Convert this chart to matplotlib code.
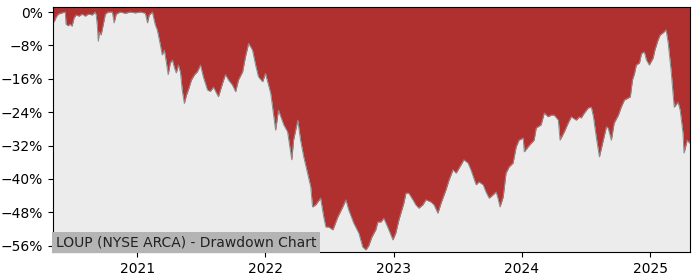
import pandas as pd
import matplotlib
matplotlib.use("Agg")
import matplotlib.pyplot as plt
import matplotlib.dates as mdates
from matplotlib.ticker import FuncFormatter

# drawdown (percent below running peak)
dates = [
    "2020-05-06", "2020-05-09", "2020-05-15", "2020-05-21", "2020-06-01", "2020-06-10",
    "2020-06-12", "2020-06-18", "2020-06-24", "2020-06-29", "2020-07-05", "2020-07-11",
    "2020-07-19", "2020-07-28", "2020-08-06", "2020-08-14", "2020-08-26", "2020-09-03",
    "2020-09-06", "2020-09-09", "2020-09-12", "2020-09-15", "2020-09-20", "2020-09-26",
    "2020-10-02", "2020-10-10", "2020-10-22", "2020-10-27", "2020-11-02", "2020-11-13",
    "2020-11-28", "2020-12-12", "2020-12-26", "2021-01-10", "2021-01-24", "2021-01-30",
    "2021-02-04", "2021-02-13", "2021-02-21", "2021-02-27", "2021-03-08", "2021-03-13",
    "2021-03-19", "2021-03-25", "2021-03-30", "2021-04-05", "2021-04-11", "2021-04-17",
    "2021-04-22", "2021-04-28", "2021-05-04", "2021-05-09", "2021-05-15", "2021-05-21",
    "2021-05-27", "2021-06-04", "2021-06-13", "2021-06-21", "2021-06-30", "2021-07-08",
    "2021-07-20", "2021-07-28", "2021-08-06", "2021-08-20", "2021-09-01", "2021-09-09",
    "2021-09-18", "2021-09-29", "2021-10-08", "2021-10-16", "2021-10-28", "2021-11-05",
    "2021-11-14", "2021-11-25", "2021-12-04", "2021-12-12", "2021-12-24", "2022-01-01",
    "2022-01-16", "2022-01-30", "2022-02-07", "2022-02-22", "2022-03-05", "2022-03-17",
    "2022-03-22", "2022-04-03", "2022-04-11", "2022-04-20", "2022-05-01", "2022-05-10",
    "2022-05-15", "2022-05-24", "2022-06-07", "2022-06-16", "2022-06-22", "2022-06-30",
    "2022-07-12", "2022-07-26", "2022-08-09", "2022-08-18", "2022-08-26", "2022-09-09",
    "2022-09-24", "2022-10-05", "2022-10-14", "2022-10-22", "2022-10-31", "2022-11-11",
    "2022-11-17", "2022-11-26", "2022-12-04", "2022-12-15", "2022-12-30", "2023-01-07",
    "2023-01-16", "2023-01-30", "2023-02-05", "2023-02-13", "2023-02-25", "2023-03-05",
    "2023-03-14", "2023-03-25", "2023-04-03", "2023-04-17", "2023-04-26", "2023-05-07",
    "2023-05-16", "2023-05-30", "2023-06-08", "2023-06-19", "2023-06-28", "2023-07-12",
    "2023-07-20", "2023-08-01", "2023-08-09", "2023-08-24", "2023-09-01", "2023-09-13",
    "2023-09-21", "2023-09-30", "2023-10-11", "2023-10-20", "2023-10-25", "2023-10-31",
    "2023-11-09", "2023-11-17", "2023-11-26", "2023-12-07", "2023-12-16", "2023-12-24",
    "2024-01-05", "2024-01-08", "2024-01-19", "2024-01-28", "2024-02-05", "2024-02-11",
    "2024-02-25", "2024-03-05", "2024-03-16", "2024-03-25", "2024-04-02", "2024-04-14",
    "2024-04-19", "2024-05-01", "2024-05-12", "2024-05-21", "2024-06-04", "2024-06-13",
    "2024-06-18", "2024-06-27", "2024-07-08", "2024-07-17", "2024-07-23", "2024-07-31",
    "2024-08-09", "2024-08-20", "2024-08-29", "2024-09-03", "2024-09-12", "2024-09-20",
    "2024-10-02", "2024-10-10", "2024-10-19", "2024-10-30", "2024-11-05", "2024-11-11",
    "2024-11-17", "2024-11-22", "2024-12-01", "2024-12-07", "2024-12-15", "2024-12-21",
    "2024-12-29", "2025-01-09", "2025-01-14", "2025-01-23", "2025-01-29", "2025-02-06",
    "2025-02-15", "2025-02-21", "2025-03-01", "2025-03-10", "2025-03-21", "2025-03-27",
    "2025-04-04", "2025-04-07", "2025-04-16", "2025-04-22", "2025-04-24",
]
drawdown = [
    -1.5, -2.4, -1.2, -0.5, -0.2, 0.0,
    -2.9, -3.3, -2.9, -3.4, -1.4, -0.7,
    -1.0, -0.5, -1.0, -0.5, -0.7, 0.0,
    -0.7, -3.1, -7.0, -4.8, -5.5, -3.0,
    -0.5, 0.0, 0.0, -2.6, -0.5, 0.0,
    -0.3, 0.0, -0.2, 0.0, -0.3, -2.6,
    -0.7, 0.0, -3.0, -4.3, -8.0, -10.3,
    -9.1, -12.2, -15.0, -12.2, -11.5, -13.4,
    -14.6, -12.7, -14.5, -18.7, -21.9, -19.9,
    -18.5, -16.3, -15.0, -14.3, -12.7, -15.5,
    -18.7, -19.0, -18.0, -20.3, -17.0, -15.0,
    -16.3, -17.5, -19.1, -16.3, -14.3, -10.7,
    -7.5, -9.1, -12.7, -15.5, -16.7, -14.7,
    -19.5, -28.3, -23.5, -27.0, -28.7, -35.4,
    -30.7, -25.9, -30.7, -34.7, -38.6, -41.9,
    -46.7, -46.2, -44.6, -49.1, -51.5, -51.5,
    -52.2, -49.1, -46.7, -45.0, -47.4, -50.5,
    -53.0, -56.3, -57.0, -56.0, -53.9, -52.2,
    -50.3, -50.3, -49.4, -51.5, -54.6, -53.0,
    -49.8, -45.8, -43.4, -43.4, -45.0, -46.2,
    -47.0, -46.2, -45.0, -45.5, -46.2, -48.2,
    -45.8, -42.6, -40.2, -37.8, -38.6, -36.6,
    -35.4, -36.2, -37.8, -41.4, -40.7, -41.4,
    -43.1, -44.6, -43.8, -43.1, -44.6, -46.7,
    -44.3, -38.6, -37.1, -36.2, -32.3, -30.7,
    -30.2, -33.5, -32.3, -31.4, -30.7, -27.8,
    -27.0, -24.2, -25.1, -24.7, -24.7, -25.9,
    -30.7, -28.7, -26.6, -25.1, -25.9, -25.1,
    -25.4, -24.2, -23.0, -22.8, -25.1, -29.9,
    -34.7, -30.7, -27.5, -27.8, -30.7, -26.6,
    -24.7, -22.8, -21.1, -20.6, -20.3, -16.3,
    -14.7, -12.7, -12.2, -9.9, -9.6, -11.5,
    -12.7, -11.0, -9.1, -6.7, -5.5, -5.0,
    -4.3, -7.5, -13.9, -22.8, -21.6, -23.5,
    -29.0, -33.8, -30.7, -31.4, -31.0,
]
yticks = [0, -8, -16, -24, -32, -40, -48, -56]
title = "LOUP (NYSE ARCA) - Drawdown Chart"

x = pd.to_datetime(dates)

fig = plt.figure(figsize=(7, 2.8), dpi=100)
ax = fig.add_axes([0.0757, 0.1, 0.91, 0.875])
ax.set_facecolor("#ececec")

ax.set_xlim(x[0], x[-1])
ax.set_ylim(-57.5, 1.2)
# red area runs from the curve up to the top of the axes
top = ax.get_ylim()[1]
ax.fill_between(x, drawdown, top, color="#b03030", linewidth=0)
ax.plot(x, drawdown, color="#8a8a8a", linewidth=0.7)

ax.set_yticks(yticks)
ax.yaxis.set_major_formatter(FuncFormatter(lambda v, p: f"{v:.0f}%".replace("-", "\u2212")))
ax.xaxis.set_major_locator(mdates.YearLocator())
ax.xaxis.set_major_formatter(mdates.DateFormatter("%Y"))
ax.tick_params(labelsize=10)

ax.text(0.004, 0.012, title, transform=ax.transAxes, fontsize=10, color="#222222",
        ha="left", va="bottom",
        bbox=dict(facecolor="#b4b4b4", edgecolor="none", pad=2.5))

fig.savefig("out.png", dpi=100)
